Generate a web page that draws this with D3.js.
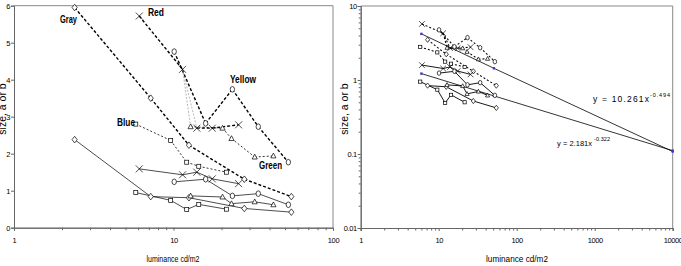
<!DOCTYPE html>
<html>
<head>
<meta charset="utf-8">
<script src="https://cdn.jsdelivr.net/npm/d3@7"></script>
<style>
  body { margin: 0; background: #fff; }
  svg { display: block; font-family: "Liberation Sans", Arial, sans-serif; }
  text { fill: #000; }
  .tick-label { font-size: 7.5px; letter-spacing: -0.4px; fill: #000; }
  .axis path, .axis line { stroke: #666; }
</style>
</head>
<body>
<svg id="chart" width="681" height="266"></svg>
<script>
// luminance (cd/m2) and size readings, one pair of arrays per colour
var lumGray = [2.4, 7.2, 12.5, 27.8, 54.8];
var sizeGrayA = [5.95, 3.5, 2.23, 1.31, 0.84];
var sizeGrayB = [2.38, 0.84, 0.81, 0.52, 0.42];

var lumRed = [6.1, 11.4, 14.0, 17.5, 25.6];
var sizeRedA = [5.72, 4.28, 2.69, 2.69, 2.78];
var sizeRedB = [1.59, 1.43, 1.50, 1.32, 1.19];

var lumYellow = [10.1, 15.9, 23.4, 34.0, 52.5];
var sizeYellowA = [4.76, 2.82, 3.74, 2.73, 1.77];
var sizeYellowB = [1.24, 1.31, 0.86, 0.92, 0.62];

var lumBlue = [5.8, 9.6, 12.1, 14.4, 21.5];
var sizeBlueA = [2.8, 2.36, 1.77, 1.66, 1.5];
var sizeBlueB = [0.95, 0.74, 0.49, 0.63, 0.5];

// green "a" line starts under the red cross
var lumGreenA = [11.4, 12.8, 20.3, 23.1, 32.3, 42.3];
var sizeGreenA = [4.28, 2.73, 2.69, 2.41, 1.91, 1.94];
var lumGreenB = [12.8, 20.3, 23.1, 32.3, 42.3];
var sizeGreenB = [0.86, 0.83, 0.65, 0.70, 0.62];

// trend lines (right chart)
var fitLum = [6, 51, 10000];
var fitUpper = [4.2, 1.44, 0.108];
var fitLower = [1.22, 0.61, 0.111];
var fitText = ["y = 10.261x", "y = 2.181x"];
var fitPower = ["-0.494", "-0.322"];

var ticksLinX = [1, 10, 100];
var ticksLinY = [0, 1, 2, 3, 4, 5, 6];
var ticksLogX = [1, 10, 100, 1000, 10000];
var ticksLogY = [0.01, 0.1, 1, 10];

function zip(xs, ys) {
  return xs.map(function (x, i) { return [x, ys[i]]; });
}

var series = [
  {name: "Gray", marker: "diamond", pts: zip(lumGray, sizeGrayA), seg: "bold"},
  {name: "Red", marker: "cross", pts: zip(lumRed, sizeRedA), seg: ["bold", "thin", "bold", "bold"]},
  {name: "Yellow", marker: "circle", pts: zip(lumYellow, sizeYellowA), seg: "bold"},
  {name: "Blue", marker: "square", pts: zip(lumBlue, sizeBlueA), seg: "dash"},
  {name: "Green", marker: "triangle", pts: zip(lumGreenA, sizeGreenA), seg: ["thin", "dash", "dash", "dash", "dash"], hideFirst: true},
  {name: "Gray", marker: "diamond", pts: zip(lumGray, sizeGrayB), seg: "solid"},
  {name: "Red", marker: "cross", pts: zip(lumRed, sizeRedB), seg: "solid"},
  {name: "Yellow", marker: "circle", pts: zip(lumYellow, sizeYellowB), seg: "solid"},
  {name: "Blue", marker: "square", pts: zip(lumBlue, sizeBlueB), seg: "solid"},
  {name: "Green", marker: "triangle", pts: zip(lumGreenB, sizeGreenB), seg: "solid"}
];

var segStyles = {
  bold:  {stroke: "#000", width: 1.4, dash: "3,2"},
  thin:  {stroke: "#999", width: 0.7, dash: "2,1.5"},
  dash:  {stroke: "#000", width: 0.8, dash: "2,2"},
  solid: {stroke: "#000", width: 0.7, dash: null}
};

var svg = d3.select("#chart");

function drawMarker(g, type, x, y, s) {
  var m;
  if (type === "diamond") {
    m = g.append("path").attr("d", "M" + x + "," + (y - 3.3 * s) + "L" + (x + 2.6 * s) + "," + y +
      "L" + x + "," + (y + 3.3 * s) + "L" + (x - 2.6 * s) + "," + y + "Z");
  } else if (type === "cross") {
    var c = 3.5 * s;
    m = g.append("path").attr("d", "M" + (x - c) + "," + (y - c) + "L" + (x + c) + "," + (y + c) +
      "M" + (x + c) + "," + (y - c) + "L" + (x - c) + "," + (y + c));
  } else if (type === "circle") {
    m = g.append("ellipse").attr("cx", x).attr("cy", y).attr("rx", 2.2 * s).attr("ry", 2.8 * s);
  } else if (type === "square") {
    m = g.append("rect").attr("x", x - 2 * s).attr("y", y - 2 * s).attr("width", 4 * s).attr("height", 4 * s);
  } else {
    m = g.append("path").attr("d", "M" + x + "," + (y - 2.8 * s) + "L" + (x + 2.6 * s) + "," + (y + 2 * s) +
      "L" + (x - 2.6 * s) + "," + (y + 2 * s) + "Z");
  }
  m.attr("fill", type === "cross" ? "none" : "#fff").attr("stroke", "#000").attr("stroke-width", 0.7);
}

function drawSeries(g, x, y, list, opts) {
  list.forEach(function (s) {
    var pts = s.pts.filter(function (p) { return p[0] >= opts.minLum; });
    var off = s.pts.length - pts.length;
    for (var i = 0; i < pts.length - 1; i++) {
      var key = opts.segOverride ? opts.segOverride(s) :
        (Array.isArray(s.seg) ? s.seg[i + off] : s.seg);
      var st = segStyles[key];
      g.append("line")
        .attr("x1", x(pts[i][0])).attr("y1", y(pts[i][1]))
        .attr("x2", x(pts[i + 1][0])).attr("y2", y(pts[i + 1][1]))
        .attr("stroke", st.stroke).attr("stroke-width", st.width * (opts.widthScale || 1))
        .attr("stroke-dasharray", st.dash);
    }
  });
  list.forEach(function (s) {
    s.pts.forEach(function (p, i) {
      if (p[0] < opts.minLum) return;
      if (s.hideFirst && i === 0) return;
      drawMarker(g, s.marker, x(p[0]), y(p[1]), opts.markerScale);
    });
  });
}

function minorTicks(domain) {
  var out = [];
  for (var d = domain[0]; d < domain[1]; d *= 10) {
    for (var k = 2; k <= 9; k++) out.push(d * k);
  }
  return out;
}

function frame(g, x0, x1, y0, y1) {
  g.append("path")
    .attr("d", "M" + x0 + "," + y0 + "H" + x1 + "V" + y1)
    .attr("fill", "none").attr("stroke", "#888").attr("stroke-width", 1);
}

function axisTitles(g, cx, xTitleW, yTitleX) {
  g.append("text")
    .attr("x", cx).attr("y", 262)
    .attr("text-anchor", "middle")
    .attr("font-size", 9).attr("textLength", xTitleW).attr("lengthAdjust", "spacingAndGlyphs")
    .text("luminance cd/m2");
  g.append("text")
    .attr("transform", "translate(" + yTitleX + ",109) rotate(-90)")
    .attr("text-anchor", "middle")
    .attr("font-size", 10.5)
    .text("size, a or b");
}

// ---------- left chart: linear size vs log luminance ----------
function drawLeft() {
  var g = svg.append("g");
  var x = d3.scaleLog().domain([1, 100]).range([14, 333]);
  var y = d3.scaleLinear().domain([0, 6]).range([227.7, 5.7]);

  axisTitles(g, 173, 53, 5.5);
  frame(g, x(1), x(100), y(6), y(0));

  g.append("g").attr("class", "axis").attr("transform", "translate(0," + y(0) + ")")
    .call(d3.axisBottom(x).tickValues(minorTicks([1, 100])).tickSize(2.5).tickFormat(""));
  var ax = g.append("g").attr("class", "axis").attr("transform", "translate(0," + y(0) + ")")
    .call(d3.axisBottom(x).tickValues(ticksLinX).tickSize(3).tickFormat(d3.format("d")));
  ax.selectAll("text").attr("class", "tick-label").attr("font-size", null).attr("font-family", null).attr("y", 9.5);

  var ay = g.append("g").attr("class", "axis").attr("transform", "translate(" + x(1) + ",0)")
    .call(d3.axisLeft(y).tickValues(ticksLinY).tickSize(3).tickFormat(d3.format("d")));
  ay.selectAll("text").attr("class", "tick-label").attr("font-size", null).attr("font-family", null).attr("x", -4);
  g.selectAll(".axis .domain").attr("stroke", "#666");

  drawSeries(g, x, y, series, {minLum: 0, markerScale: 1});

  var labels = [
    {t: "Gray", x: 60, y: 22.5, w: 17},
    {t: "Red", x: 148, y: 15.5, w: 16},
    {t: "Yellow", x: 230, y: 82.5, w: 26},
    {t: "Blue", x: 117, y: 125.5, w: 18},
    {t: "Green", x: 259, y: 168.5, w: 23}
  ];
  g.selectAll("text.series-label").data(labels).enter().append("text")
    .attr("class", "series-label")
    .attr("x", function (d) { return d.x; })
    .attr("y", function (d) { return d.y; })
    .attr("font-size", 10).attr("font-weight", "bold")
    .attr("textLength", function (d) { return d.w; })
    .attr("lengthAdjust", "spacingAndGlyphs")
    .text(function (d) { return d.t; });
}

// ---------- right chart: log-log with power fits ----------
function drawRight() {
  var g = svg.append("g");
  var x = d3.scaleLog().domain([1, 10000]).range([360.7, 672.7]);
  var y = d3.scaleLog().domain([0.01, 10]).range([228, 6]);

  axisTitles(g, 517, 62, 348);
  frame(g, x(1), x(10000), y(10), y(0.01));

  g.append("g").attr("class", "axis").attr("transform", "translate(0," + y(0.01) + ")")
    .call(d3.axisBottom(x).tickValues(minorTicks([1, 10000])).tickSize(2.5).tickFormat(""));
  var ax = g.append("g").attr("class", "axis").attr("transform", "translate(0," + y(0.01) + ")")
    .call(d3.axisBottom(x).tickValues(ticksLogX).tickSize(3).tickFormat(d3.format("d")));
  ax.selectAll("text").attr("class", "tick-label").attr("font-size", null).attr("font-family", null).attr("y", 10);

  g.append("g").attr("class", "axis").attr("transform", "translate(" + x(1) + ",0)")
    .call(d3.axisLeft(y).tickValues(minorTicks([0.01, 10])).tickSize(2).tickFormat(""));
  var ay = g.append("g").attr("class", "axis").attr("transform", "translate(" + x(1) + ",0)")
    .call(d3.axisLeft(y).tickValues(ticksLogY).tickSize(3).tickFormat(function (d) { return String(d); }));
  ay.selectAll("text").attr("class", "tick-label").attr("font-size", null).attr("font-family", null).attr("x", -4);
  g.selectAll(".axis .domain").attr("stroke", "#666");

  // trend lines
  [fitUpper, fitLower].forEach(function (vals) {
    var pts = zip(fitLum, vals);
    g.append("path")
      .attr("d", d3.line().x(function (d) { return x(d[0]); }).y(function (d) { return y(d[1]); })(pts))
      .attr("fill", "none").attr("stroke", "#000").attr("stroke-width", 0.8);
    pts.forEach(function (p) {
      g.append("rect").attr("x", x(p[0]) - 1.2).attr("y", y(p[1]) - 1.2)
        .attr("width", 2.4).attr("height", 2.4).attr("fill", "#3a3ac8");
    });
  });

  drawSeries(g, x, y, series, {
    minLum: 5, markerScale: 0.8,
    segOverride: function (s) { return s.seg === "solid" ? "solid" : "dash"; },
    widthScale: 1.3
  });

  // fit equations
  var eq = [
    {t: fitText[0], p: fitPower[0], x: 593, y: 102, fs: 8.5, w: 56, px: 650, py: 96.5, pw: 20},
    {t: fitText[1], p: fitPower[1], x: 557, y: 146, fs: 7.5, w: 35, px: 594, py: 140.5, pw: 16}
  ];
  eq.forEach(function (d) {
    g.append("text").attr("x", d.x).attr("y", d.y).attr("font-size", d.fs)
      .attr("textLength", d.w).attr("lengthAdjust", "spacing").text(d.t);
    g.append("text").attr("x", d.px).attr("y", d.py).attr("font-size", 5.5)
      .attr("textLength", d.pw).attr("lengthAdjust", "spacing").text(d.p);
  });
}

drawLeft();
drawRight();
</script>
</body>
</html>
